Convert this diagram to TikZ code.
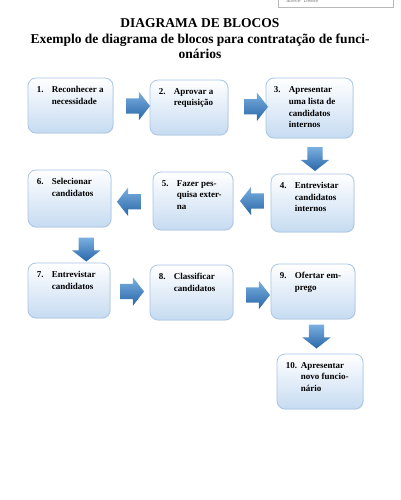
\documentclass[tikz,border=0pt]{standalone}
\usepackage{fontspec}
\setmainfont{Liberation Serif}
\setsansfont{Liberation Sans}
\usetikzlibrary{shapes.arrows,shadows,calc}
\definecolor{boxline}{HTML}{A9C6E6}
\definecolor{boxbot}{HTML}{C6DBF1}
\definecolor{arrtop}{HTML}{7AB0E0}
\definecolor{arrbot}{HTML}{2A66A8}
\newcommand\stepnum[2]{\makebox[15pt][l]{#1}\parbox[t]{62pt}{\raggedright #2}}
\begin{document}
\begin{tikzpicture}[x=1pt,y=-1pt,
  blk/.style={draw=boxline, line width=0.8pt, rounded corners=8pt,
    top color=white, bottom color=boxbot,
    drop shadow={opacity=0.12, shadow xshift=0.8pt, shadow yshift=-0.8pt}},
  txt/.style={anchor=north west, inner sep=0pt,
    font=\fontsize{9}{11.7}\selectfont\bfseries},
  arr/.style={single arrow, draw=none, top color=arrtop, bottom color=arrbot,
    inner sep=7.5pt, minimum height=24pt, single arrow head extend=6.5pt,
    single arrow tip angle=104},
  rarr/.style={arr},
  larr/.style={arr, shape border rotate=180},
  darr/.style={arr, shape border rotate=270}]
\useasboundingbox (0,0) rectangle (400,500);

% small interface box at the top right
\node[draw=gray!55, anchor=south west, minimum width=115pt, minimum height=12pt,
  inner sep=1pt, text width=110pt, align=left, text=gray,
  font=\sffamily\itshape\fontsize{5}{5}\selectfont] (ui) at (278,7) {\hspace*{6pt}aberle\ \ Delete};

% title
\node[anchor=north, inner sep=0pt, align=center,
  font=\fontsize{13.5}{15.5}\selectfont\bfseries] (title) at (200,18.5)
  {DIAGRAMA DE BLOCOS\\Exemplo de diagrama de blocos para contratação de funci-\\onários};

% boxes
\node[blk, minimum width=85pt, minimum height=55pt] (b1) at (70.5,105.5) {};
\node[blk, minimum width=78pt, minimum height=55pt] (b2) at (189,107.5) {};
\node[blk, minimum width=87pt, minimum height=60pt] (b3) at (309.5,108) {};
\node[blk, minimum width=83pt, minimum height=58pt] (b4) at (312.5,203) {};
\node[blk, minimum width=80pt, minimum height=58pt] (b5) at (193,201) {};
\node[blk, minimum width=83pt, minimum height=57pt] (b6) at (69.5,198.5) {};
\node[blk, minimum width=82pt, minimum height=55pt] (b7) at (69,290.5) {};
\node[blk, minimum width=83pt, minimum height=55pt] (b8) at (191.5,292.5) {};
\node[blk, minimum width=84pt, minimum height=55pt] (b9) at (313,291.5) {};
\node[blk, minimum width=86pt, minimum height=55pt] (b10) at (320,381.5) {};

% texts
\node[txt] (t1) at ([shift={(9,8.5)}]b1.north west) {\stepnum{1.}{Reconhecer a\\necessidade}};
\node[txt] (t2) at ([shift={(9,8.5)}]b2.north west) {\stepnum{2.}{Aprovar a\\requisição}};
\node[txt] (t3) at ([shift={(8,9)}]b3.north west) {\stepnum{3.}{Apresentar\\uma lista de\\candidatos\\internos}};
\node[txt] (t4) at ([shift={(9,8.5)}]b4.north west) {\stepnum{4.}{Entrevistar\\candidatos\\internos}};
\node[txt] (t5) at ([shift={(9,8.5)}]b5.north west) {\stepnum{5.}{Fazer pes-\\quisa exter-\\na}};
\node[txt] (t6) at ([shift={(9,8.5)}]b6.north west) {\stepnum{6.}{Selecionar\\candidatos}};
\node[txt] (t7) at ([shift={(9,8.5)}]b7.north west) {\stepnum{7.}{Entrevistar\\candidatos}};
\node[txt] (t8) at ([shift={(9,8.5)}]b8.north west) {\stepnum{8.}{Classificar\\candidatos}};
\node[txt] (t9) at ([shift={(9,8.5)}]b9.north west) {\stepnum{9.}{Ofertar em-\\prego}};
\node[txt] (t10) at ([shift={(9,8.5)}]b10.north west) {\stepnum{10.}{Apresentar\\novo funcio-\\nário}};

% block arrows between the boxes
\node[rarr] (a12) at ($(b1.east)!0.5!(b2.west)+(3.5,-0.5)$) {};
\node[rarr] (a23) at ($(b2.east)!0.5!(b3.west)+(6,-1)$) {};
\node[darr] (a34) at ($(b3.south)!0.5!(b4.north)+(4,0)$) {};
\node[larr] (a45) at ($(b4.west)!0.5!(b5.east)+(3,-1)$) {};
\node[larr] (a56) at ($(b5.west)!0.5!(b6.east)+(0,2)$) {};
\node[darr] (a67) at ($(b6.south)!0.5!(b7.north)+(17,1.5)$) {};
\node[rarr] (a78) at ($(b7.east)!0.5!(b8.west)+(-1,0)$) {};
\node[rarr] (a89) at ($(b8.east)!0.5!(b9.west)+(3,3)$) {};
\node[darr] (a910) at ($(b9.south)!0.5!(b10.north)+(0,-3)$) {};
\end{tikzpicture}
\end{document}
